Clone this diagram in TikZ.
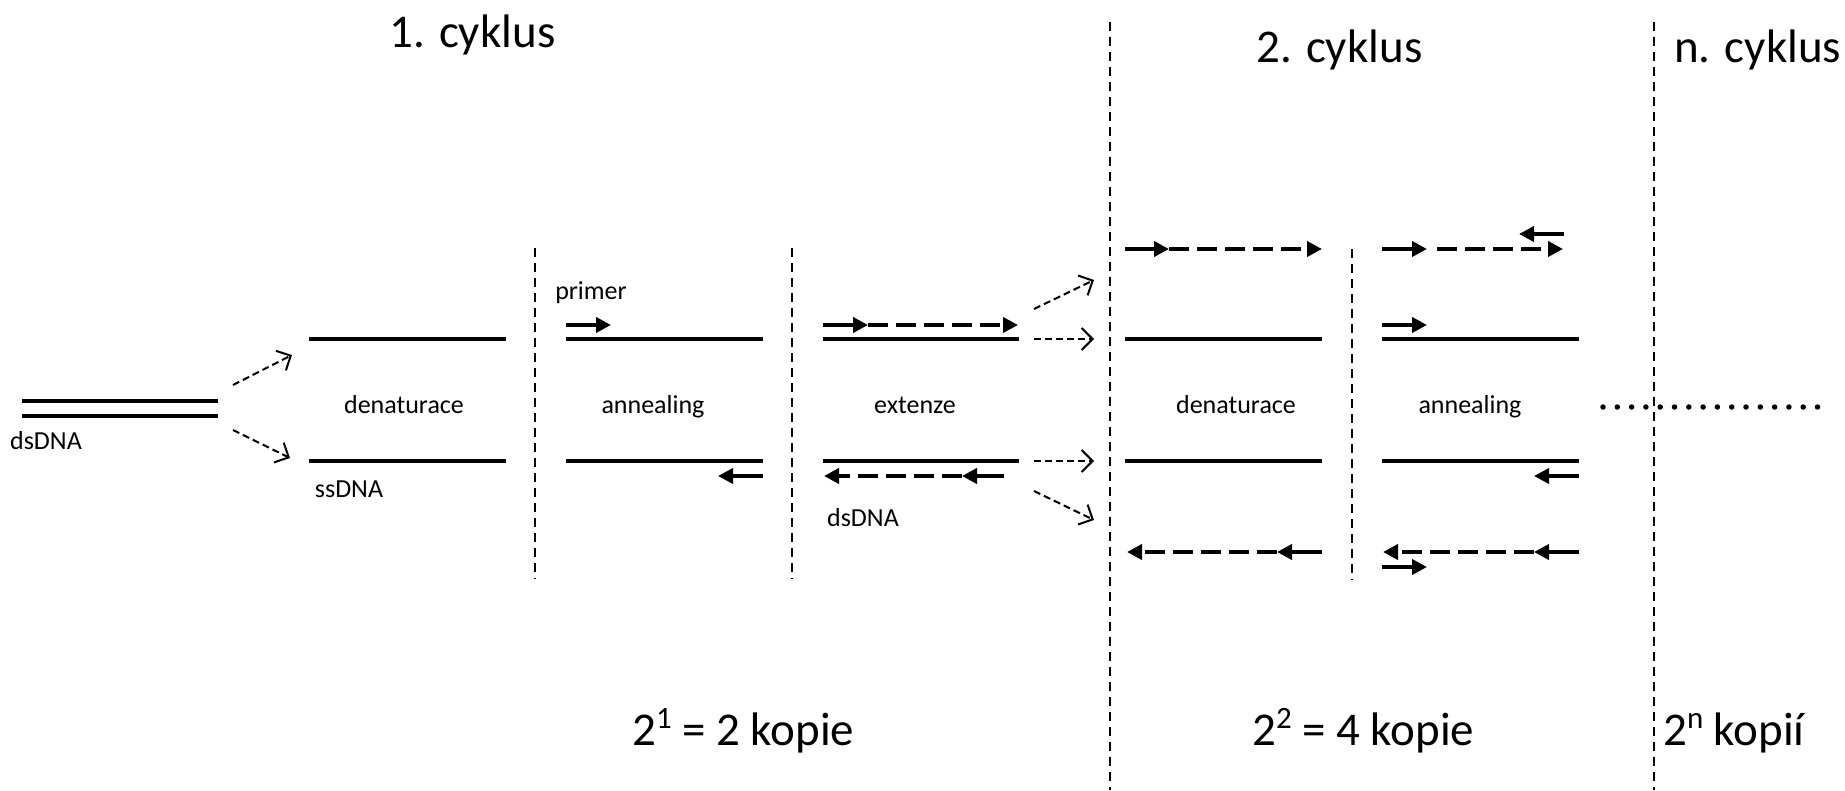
\documentclass[tikz,border=0pt]{standalone}
\usepackage{fontspec}
\setmainfont{Carlito}
\usetikzlibrary{arrows.meta}
\newcommand{\mysup}[1]{\raisebox{0.36em}{\fontsize{31}{31}\selectfont #1}}
\begin{document}
\begin{tikzpicture}[x=1pt,y=-1pt,
  strand/.style={line width=4pt},
  dsline/.style={line width=3.5pt},
  primer/.style={line width=4pt, -{Triangle[length=15pt,width=15pt]}},
  newdna/.style={line width=4pt, dash pattern=on 20pt off 8pt, -{Triangle[length=15pt,width=15pt]}},
  flow/.style={line width=2pt, dash pattern=on 7pt off 4pt, -{Straight Barb[length=11pt,width=22pt]}},
  sep/.style={line width=1.6pt, dash pattern=on 9pt off 6pt},
  dots/.style={line width=5.5pt, line cap=round, dash pattern=on 0pt off 14.3pt},
  small/.style={font=\fontsize{26}{31}\selectfont, inner sep=0pt, anchor=base},
  big/.style={font=\fontsize{47}{56}\selectfont, inner sep=0pt, anchor=base west}]
\useasboundingbox (0,0) rectangle (1845,790);

% titles
\node[big] (t1) at (389,47) {1. cyklus};
\node[big] (t2) at (1256,62) {2. cyklus};
\node[big] (tn) at (1674,62) {n. cyklus};
\node[big] (k1) at (632,745) {2\mysup{1} = 2 kopie};
\node[big] (k2) at (1252,745) {2\mysup{2} = 4 kopie};
\node[big] (kn) at (1663,745) {2\mysup{n} kopií};

% separators
\draw[sep] (1110,22) -- (1110,790);
\draw[sep] (1654,22) -- (1654,790);
\draw[sep] (535,248) -- (535,579);
\draw[sep] (792,248) -- (792,579);
\draw[sep] (1352,249) -- (1352,580);

% dsDNA
\draw[dsline] (22,401) -- (218,401);
\draw[dsline] (22,416) -- (218,416);
\node[small] (lds) at (46,449) {dsDNA};
\coordinate (s1) at (233,385); \coordinate (e1) at (292,355);
\coordinate (s2) at (233,430); \coordinate (e2) at (290,458);
\draw[flow] (s1) -- (e1);
\draw[flow] (s2) -- (e2);

% cycle 1 denaturace
\draw[strand] (309,339) -- (506,339);
\draw[strand] (309,461) -- (506,461);
\node[small] (lden1) at (404,413) {denaturace};
\node[small] (lss) at (349,497) {ssDNA};

% cycle 1 annealing
\draw[strand] (566,339) -- (763,339);
\draw[strand] (566,461) -- (763,461);
\draw[primer] (566,325) -- (611,325);
\draw[primer] (763,476) -- (718,476);
\node[small] (lpr) at (591,299) {primer};
\node[small] (lann1) at (653,413) {annealing};

% cycle 1 extenze
\draw[strand] (823,339) -- (1019,339);
\draw[strand] (823,461) -- (1019,461);
\draw[primer] (823,325) -- (868,325);
\draw[newdna] (868,325) -- (1018,325);
\draw[primer] (1004,476) -- (962,476);
\draw[newdna] (962,476) -- (824,476);
\node[small] (lext) at (915,413) {extenze};
\node[small] (lds2) at (863,526) {dsDNA};

% arrows to cycle 2
\coordinate (a1) at (1034,309); \coordinate (b1) at (1094,280);
\coordinate (a2) at (1034,339); \coordinate (b2) at (1094,339);
\coordinate (a3) at (1034,461); \coordinate (b3) at (1094,461);
\coordinate (a4) at (1034,491); \coordinate (b4) at (1094,520);
\draw[flow] (a1) -- (b1);
\draw[flow] (a2) -- (b2);
\draw[flow] (a3) -- (b3);
\draw[flow] (a4) -- (b4);

% cycle 2 denaturace
\draw[primer] (1125,249) -- (1169,249);
\draw[newdna] (1169,249) -- (1322,249);
\draw[strand] (1125,339) -- (1322,339);
\draw[strand] (1125,461) -- (1322,461);
\draw[primer] (1322,552) -- (1277,552);
\draw[newdna] (1277,552) -- (1127,552);
\node[small] (lden2) at (1236,413) {denaturace};

% cycle 2 annealing
\draw[primer] (1564,234) -- (1519,234);
\draw[primer] (1382,249) -- (1427,249);
\draw[newdna] (1437,249) -- (1563,249);
\draw[primer] (1382,325) -- (1427,325);
\draw[strand] (1382,339) -- (1579,339);
\draw[strand] (1382,461) -- (1579,461);
\draw[primer] (1579,476) -- (1534,476);
\draw[primer] (1579,552) -- (1534,552);
\draw[newdna] (1534,552) -- (1383,552);
\draw[primer] (1382,567) -- (1427,567);
\node[small] (lann2) at (1470,413) {annealing};

% continuation dots
\draw[dots] (1603,407) -- (1818,407);
\end{tikzpicture}
\end{document}
